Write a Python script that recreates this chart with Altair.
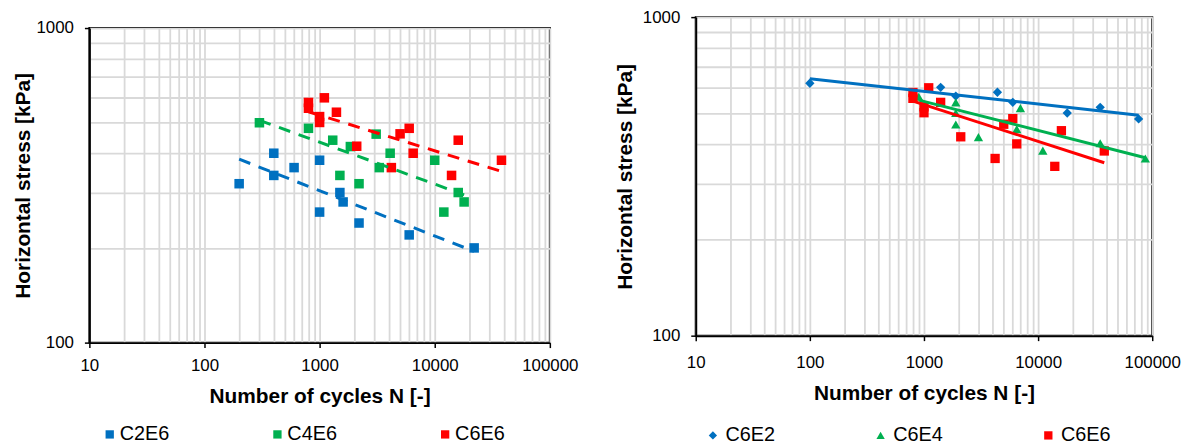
import altair as alt
import pandas as pd

FONT = "Liberation Sans"
BLUE, GREEN, RED = "#0070C0", "#00B050", "#FF0000"

# ---------------- left panel data ----------------
left_series = ["C2E6", "C4E6", "C6E6"]
c2e6_n = [200, 400, 400, 600, 1000, 1000, 1500, 1600, 2200, 6000, 22000]
c2e6_s = [320, 400, 340, 360, 380, 260, 300, 280, 240, 220, 200]
c4e6_n = [300, 800, 1300, 1850, 1500, 2200, 3100, 3300, 4100, 10000, 12000, 16000, 18000]
c4e6_s = [500, 480, 440, 420, 340, 320, 460, 360, 400, 380, 260, 300, 280]
c6e6_n = [800, 800, 1000, 1000, 1100, 1400, 2100, 4200, 5000, 6000, 6500, 14000, 16000, 38000]
c6e6_s = [580, 556, 523, 501, 600, 540, 421, 360, 461, 480, 400, 340, 440, 380]

# trendline end points (left panel, dashed)
trend_l_n0 = [200, 300, 800]
trend_l_n1 = [22000, 18000, 38000]
trend_l_s0 = [383, 509, 542]
trend_l_s1 = [195, 295, 350]

# ---------------- right panel data ----------------
right_series = ["C6E2", "C6E4", "C6E6"]
c6e2_n = [100, 1400, 1900, 4400, 6000, 18000, 35000, 76000]
c6e2_s = [620, 602, 565, 581, 540, 500, 521, 479]
c6e4_n = [900, 1900, 1900, 1900, 3000, 6500, 7000, 11000, 35000, 87000]
c6e4_s = [562, 540, 500, 460, 420, 445, 518, 381, 402, 360]

# trendline end points (right panel, solid)
trend_r_n0 = [100, 900, 800]
trend_r_n1 = [76000, 87000, 38000]
trend_r_s0 = [641, 549, 545]
trend_r_s1 = [492, 362, 349]

# tick values
x_ticks = [m * 10 ** e for e in range(1, 5) for m in range(1, 10)] + [100000]
y_ticks = [m * 100 for m in range(1, 11)]
x_dec = [10, 100, 1000, 10000, 100000]
y_dec = [100, 1000]


def points_df(series, ns, ss):
    rows = []
    for name, n_list, s_list in zip(series, ns, ss):
        for n, s in zip(n_list, s_list):
            rows.append({"series": name, "N": n, "S": s})
    return pd.DataFrame(rows)


def trend_df(series, n0, n1, s0, s1):
    rows = []
    for i, name in enumerate(series):
        rows.append({"series": name, "N": n0[i], "S": s0[i]})
        rows.append({"series": name, "N": n1[i], "S": s1[i]})
    return pd.DataFrame(rows)


df_left = points_df(left_series, [c2e6_n, c4e6_n, c6e6_n], [c2e6_s, c4e6_s, c6e6_s])
df_right = points_df(right_series, [c6e2_n, c6e4_n, c6e6_n], [c6e2_s, c6e4_s, c6e6_s])
tr_left = trend_df(left_series, trend_l_n0, trend_l_n1, trend_l_s0, trend_l_s1)
tr_right = trend_df(right_series, trend_r_n0, trend_r_n1, trend_r_s0, trend_r_s1)


def dec_test(vals):
    return "indexof([" + ",".join(str(v) for v in vals) + "], datum.value) >= 0"


def x_axis(label_pad, title_pad):
    t = dec_test(x_dec)
    return alt.Axis(
        values=x_ticks,
        title="Number of cycles N [-]",
        labelExpr=f"{t} ? format(datum.value, 'd') : ''",
        tickOpacity={"condition": {"test": t, "value": 1}, "value": 0},
        labelOverlap=False,
        labelFlush=False,
        labelPadding=label_pad,
        titlePadding=title_pad,
    )


def y_axis(title_pad):
    t = dec_test(y_dec)
    return alt.Axis(
        values=y_ticks,
        title="Horizontal stress [kPa]",
        labelExpr=f"{t} ? format(datum.value, 'd') : ''",
        tickOpacity={"condition": {"test": t, "value": 1}, "value": 0},
        labelOverlap=False,
        labelFlush=False,
        labelPadding=11,
        titlePadding=title_pad,
    )


xs = alt.Scale(type="log", domain=[10, 100000], nice=False)
ys = alt.Scale(type="log", domain=[100, 1000], nice=False)


def legend(x, y, offset, colpad):
    return alt.Legend(
        title=None, orient="none", legendX=x, legendY=y, direction="horizontal",
        labelFont=FONT, labelFontSize=20, labelColor="black", symbolSize=70,
        columnPadding=colpad, labelOffset=offset, padding=0, symbolStrokeWidth=0,
    )


# ---------------- left chart ----------------
lx = x_axis(10.5, 11.5)
ly = y_axis(2.5)
pts_l = alt.Chart(df_left).mark_square(size=92, opacity=1).encode(
    x=alt.X("N:Q", scale=xs, axis=lx),
    y=alt.Y("S:Q", scale=ys, axis=ly),
    color=alt.Color("series:N", scale=alt.Scale(domain=left_series, range=[BLUE, GREEN, RED]),
                    legend=legend(10.5, 410.5, 0, 98)),
)
lines_l = alt.Chart(tr_left).mark_line(strokeWidth=3, strokeDash=[12, 9], strokeCap="butt").encode(
    x=alt.X("N:Q", scale=xs, axis=lx),
    y=alt.Y("S:Q", scale=ys, axis=ly),
    color=alt.Color("series:N", legend=None),
    detail="series:N",
)
left_plot = alt.layer(pts_l, lines_l).properties(width=464, height=317)

# invisible spacer that lowers the left plot relative to the right one
spacer = alt.Chart(pd.DataFrame({"a": [0]})).mark_point(opacity=0, size=0.5).encode(
    x=alt.value(10), y=alt.value(0.5)
).properties(width=464, height=1, view=alt.ViewBackground(stroke="transparent", strokeWidth=0))

left = alt.vconcat(spacer, left_plot, spacing=0)

# ---------------- right chart ----------------
rx = x_axis(14, 12)
ry = y_axis(7)
leg_r = legend(7.3, 411.5, 2.7, 96)
pts_r = alt.Chart(df_right).mark_point(filled=True, size=88, opacity=1).encode(
    x=alt.X("N:Q", scale=xs, axis=rx),
    y=alt.Y("S:Q", scale=ys, axis=ry),
    color=alt.Color("series:N", scale=alt.Scale(domain=right_series, range=[BLUE, GREEN, RED]),
                    legend=leg_r),
    shape=alt.Shape("series:N", scale=alt.Scale(domain=right_series, range=["diamond", "triangle-up", "square"]),
                    legend=leg_r),
)
lines_r = alt.Chart(tr_right).mark_line(strokeWidth=3).encode(
    x=alt.X("N:Q", scale=xs, axis=rx),
    y=alt.Y("S:Q", scale=ys, axis=ry),
    color=alt.Color("series:N", legend=None),
    detail="series:N",
)
right = alt.layer(pts_r, lines_r).properties(width=460, height=321)

chart = alt.hconcat(left, right, spacing=34).resolve_scale(
    color="independent", shape="independent"
).properties(
    padding={"left": 3, "top": -2.5, "right": 0, "bottom": 0}
).configure(
    font=FONT
).configure_view(
    stroke="black", strokeWidth=2
).configure_axis(
    gridColor="#D9D9D9", gridWidth=1.8, domainColor="black", domainWidth=2,
    tickColor="black", tickWidth=1.5, tickSize=5,
    labelFont=FONT, labelFontSize=17, labelColor="black",
    titleFont=FONT, titleFontSize=21, titleFontWeight="bold", titleColor="black",
)

chart.save("out.html", embed_options={"renderer": "svg", "actions": False})
